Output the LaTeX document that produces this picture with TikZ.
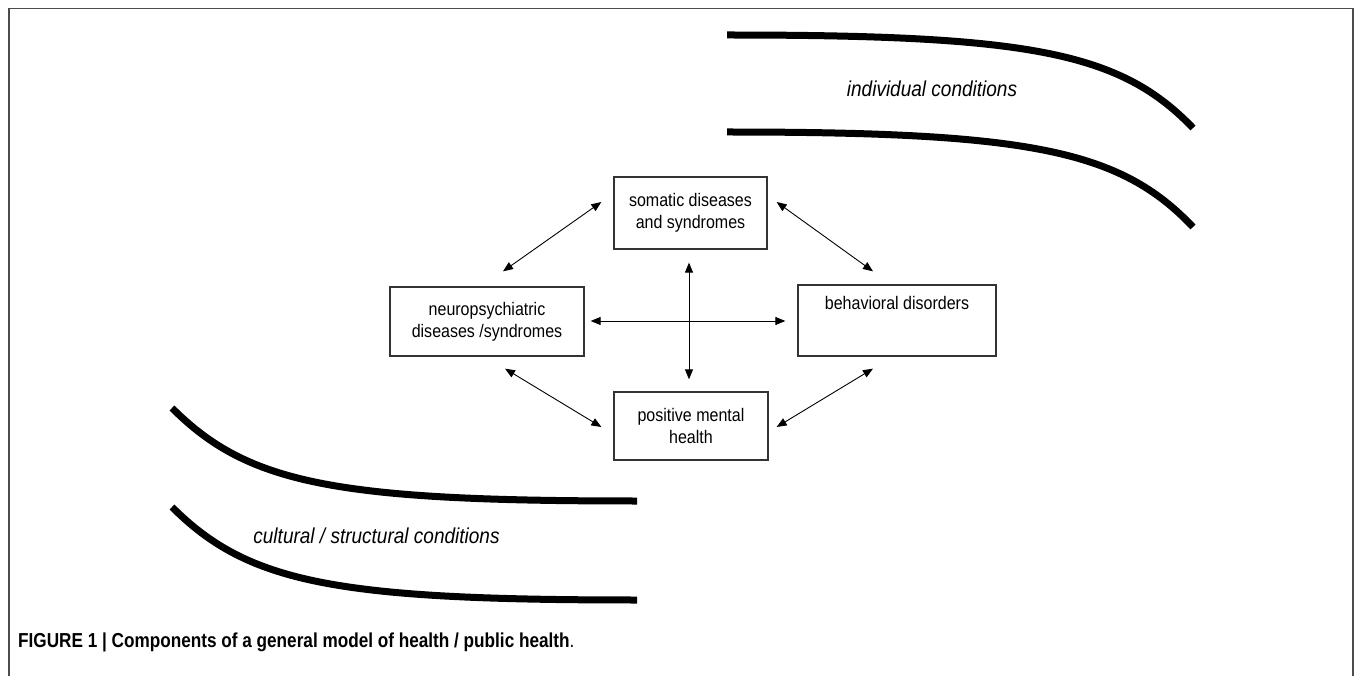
\documentclass[tikz,border=0pt]{standalone}
\usepackage{fontspec}
\setmainfont{Liberation Sans}[FakeStretch=0.88]
\newfontfamily\capfont{Liberation Sans}[FakeStretch=0.85]
\usetikzlibrary{arrows.meta,calc}
\begin{document}
\begin{tikzpicture}[x=1pt,y=-1pt,
  box/.style={draw=black!80, line width=1.3pt, inner sep=0pt, align=center, font=\fontsize{18.2}{22}\selectfont},
  link/.style={line width=0.9pt, {Triangle[length=10pt,width=8pt]}-{Triangle[length=10pt,width=8pt]}},
  band/.style={line width=7pt, line cap=butt},
  cond/.style={font=\fontsize{21.6}{24}\selectfont\itshape, anchor=base, inner sep=0pt}]
\useasboundingbox (0,0) rectangle (1355,676);
\fill[white] (0,0) rectangle (1355,676);
% frame
\draw[line width=1.5pt, black!70] (9,676) -- (9,8.5) -- (1353,8.5) -- (1353,676);
% boxes
\node[box, minimum width=153pt, minimum height=72pt] (som) at (690.5,213) {somatic diseases\\and syndromes};
\node[box, minimum width=194pt, minimum height=69pt] (neu) at (487,321.5) {neuropsychiatric\\diseases /syndromes};
\node[box, minimum width=198pt, minimum height=71pt, text height=13pt, text depth=34pt] (beh) at (897,320.5) {behavioral disorders};
\node[box, minimum width=154pt, minimum height=68pt] (pos) at (691,426) {positive mental\\health};
% connectors
\draw[link] ($(som.west)+(-12,-11)$) -- ($(neu.north)+(16,-15)$);
\draw[link] ($(som.east)+(9,-11)$) -- ($(beh.north)+(-24,-13)$);
\draw[link] ($(som.south)+(-1.5,13)$) -- ($(pos.north)+(-2,-12)$);
\draw[link] ($(neu.east)+(6,-0.5)$) -- ($(beh.west)+(-12,0.5)$);
\draw[link] ($(neu.south)+(18,12)$) -- ($(pos.west)+(-12,1)$);
\draw[link] ($(beh.south)+(-24,12)$) -- ($(pos.east)+(8,1)$);
% condition bands
\draw[band] (727,35) .. controls (1030,35) and (1120,52) .. (1193,128);
\draw[band] (727,132) .. controls (1030,132) and (1120,150) .. (1193,227);
\draw[band] (172,408) .. controls (248,484) and (335,501) .. (637,501);
\draw[band] (172,507) .. controls (248,583) and (335,600) .. (637,600);
% labels
\node[cond] (ind) at (932,97) {individual conditions};
\node[cond] (cul) at (376.5,543) {cultural / structural conditions};
\node[anchor=base west, inner sep=0pt, font=\capfont\fontsize{20.2}{22}\selectfont] (cap) at (18,647) {\textbf{FIGURE 1 | Components of a general model of health / public health}.};
\end{tikzpicture}
\end{document}
